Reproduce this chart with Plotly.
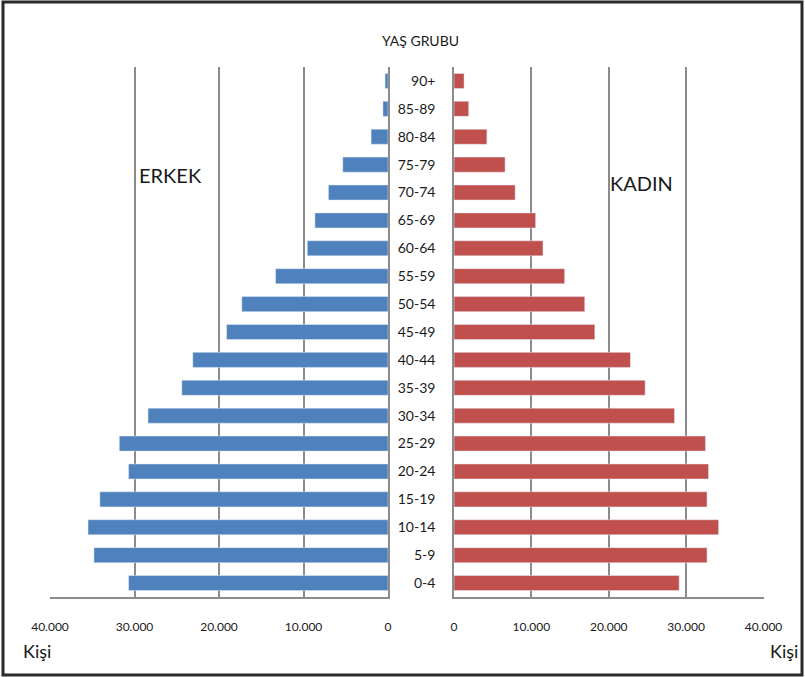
import plotly.graph_objects as go

ages = ["0-4", "5-9", "10-14", "15-19", "20-24", "25-29", "30-34", "35-39",
        "40-44", "45-49", "50-54", "55-59", "60-64", "65-69", "70-74", "75-79",
        "80-84", "85-89", "90+"]
erkek = [30700, 34800, 35500, 34100, 30700, 31800, 28400, 24400,
         23100, 19100, 17300, 13300, 9550, 8650, 7050, 5350,
         2000, 600, 350]
kadin = [29100, 32700, 34200, 32700, 32900, 32500, 28500, 24700,
         22800, 18200, 16900, 14300, 11500, 10550, 7900, 6600,
         4250, 1900, 1300]
x_ticks = [0, 10000, 20000, 30000, 40000]

W, H = 805, 677
FONT = "Lato, Open Sans, sans-serif"
BLUE = "#4F81BD"
RED = "#C0504D"
GRID = "#8c8c8c"

def px(x):
    return x / W

def py(y):
    return 1 - y / H

fig = go.Figure()
fig.add_trace(go.Bar(y=ages, x=erkek, orientation="h", marker_color=BLUE,
                     xaxis="x", yaxis="y", showlegend=False))
fig.add_trace(go.Bar(y=ages, x=kadin, orientation="h", marker_color=RED,
                     xaxis="x2", yaxis="y2", showlegend=False))

common_x = dict(
    tickvals=x_ticks, tickformat=",d", showgrid=True, gridcolor=GRID,
    gridwidth=1.5, showline=True, linecolor=GRID, linewidth=1.5,
    zeroline=False, ticks="", tickfont=dict(family=FONT, size=12, color="#1a1a1a"),
    ticklabelstandoff=18, fixedrange=True, automargin=False,
)
fig.update_layout(
    width=W, height=H,
    margin=dict(l=0, r=0, t=0, b=0, autoexpand=False),
    paper_bgcolor="white", plot_bgcolor="white",
    separators=",.",
    bargap=0.46,
    xaxis=dict(domain=[px(50), px(388)], range=[40000, 0], anchor="y", **common_x),
    xaxis2=dict(domain=[px(454), px(763.5)], range=[0, 40000], anchor="y2", **common_x),
    yaxis=dict(domain=[py(597), py(67)], anchor="x", side="right",
               showticklabels=False, showgrid=False, showline=True,
               linecolor=GRID, linewidth=1.5, ticks="", fixedrange=True,
               automargin=False),
    yaxis2=dict(domain=[py(597), py(67)], anchor="x2", side="left",
                showticklabels=True, showgrid=False, showline=True,
                linecolor=GRID, linewidth=1.5, ticks="",
                tickfont=dict(family=FONT, size=14, color="#1a1a1a"),
                ticklabelstandoff=14, fixedrange=True, automargin=False),
)

ann = [
    dict(text="YAŞ GRUBU", x=px(420), y=py(40), size=14),
    dict(text="ERKEK", x=px(170), y=py(175), size=20),
    dict(text="KADIN", x=px(641), y=py(183), size=20),
    dict(text="Kişi", x=px(37), y=py(651), size=18),
    dict(text="Kişi", x=px(784), y=py(651), size=18),
]
for a in ann:
    fig.add_annotation(text=a["text"], x=a["x"], y=a["y"], xref="paper", yref="paper",
                       showarrow=False, xanchor="center", yanchor="middle",
                       font=dict(family=FONT, size=a["size"], color="#1a1a1a"))

fig.add_shape(type="rect", xref="paper", yref="paper",
              x0=px(3), x1=px(802), y0=py(675), y1=py(2),
              line=dict(color="#2a2a2a", width=3), fillcolor="rgba(0,0,0,0)")

fig.write_html("out.html", config={"displayModeBar": False},
               post_script="document.body.style.margin='0';document.body.style.overflow='hidden';")
